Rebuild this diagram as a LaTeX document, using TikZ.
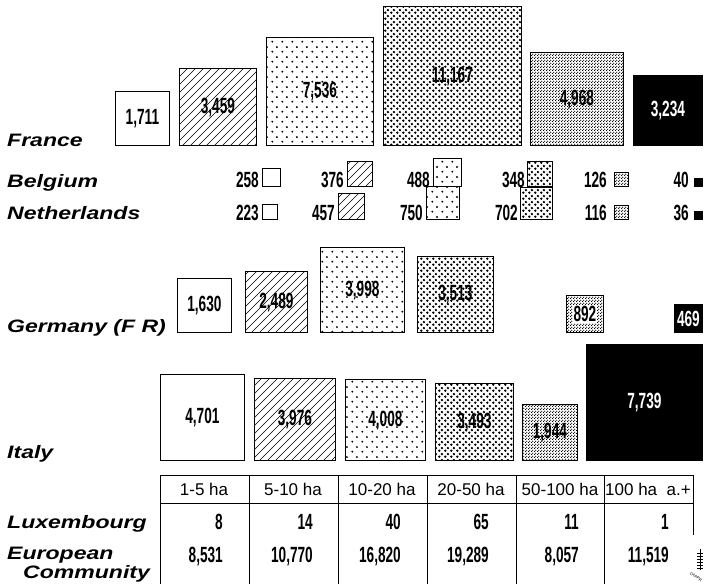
\documentclass[tikz,border=0pt]{standalone}
\usepackage{fontspec}
\setmainfont{Liberation Sans}
\newfontfamily\widefont[FakeStretch=1.28]{Liberation Sans}
\newfontfamily\narrowfont[FakeStretch=0.62]{Liberation Sans}
\usetikzlibrary{patterns}

% fill patterns, one per size class
\pgfdeclarepatternformonly{hatch}{\pgfqpoint{-1pt}{-1pt}}{\pgfqpoint{9pt}{9pt}}{\pgfqpoint{8pt}{8pt}}{%
  \pgfsetlinewidth{0.7pt}\pgfpathmoveto{\pgfqpoint{0pt}{0pt}}\pgfpathlineto{\pgfqpoint{8.1pt}{8.1pt}}\pgfusepath{stroke}}
\pgfdeclarepatternformonly{sparsedots}{\pgfqpoint{0pt}{0pt}}{\pgfqpoint{10pt}{10pt}}{\pgfqpoint{10pt}{10pt}}{%
  \pgfpathcircle{\pgfqpoint{2.5pt}{2.5pt}}{1.1pt}\pgfpathcircle{\pgfqpoint{7.5pt}{7.5pt}}{1.1pt}\pgfusepath{fill}}
\pgfdeclarepatternformonly{densedots}{\pgfqpoint{0pt}{0pt}}{\pgfqpoint{6pt}{6pt}}{\pgfqpoint{6pt}{6pt}}{%
  \pgfpathcircle{\pgfqpoint{1.5pt}{1.5pt}}{1.45pt}\pgfpathcircle{\pgfqpoint{4.5pt}{4.5pt}}{1.45pt}\pgfusepath{fill}}
\pgfdeclarepatternformonly{halftone}{\pgfqpoint{0pt}{0pt}}{\pgfqpoint{3pt}{3pt}}{\pgfqpoint{3pt}{3pt}}{%
  \pgfpathcircle{\pgfqpoint{0.75pt}{0.75pt}}{0.85pt}\pgfpathcircle{\pgfqpoint{2.25pt}{2.25pt}}{0.85pt}\pgfusepath{fill}}

\tikzstyle{farm} = [rectangle, draw=black, line width=0.8pt, inner sep=0pt, anchor=south west, font=\narrowfont\bfseries\fontsize{22}{22}\selectfont]
\tikzstyle{c1} = [farm, fill=white]
\tikzstyle{c2} = [farm, pattern=hatch]
\tikzstyle{c3} = [farm, pattern=sparsedots]
\tikzstyle{c4} = [farm, pattern=densedots]
\tikzstyle{c5} = [farm, pattern=halftone]
\tikzstyle{c6} = [farm, fill=black, text=white]
\tikzstyle{numlbl} = [inner sep=0pt, anchor=base east, font=\narrowfont\bfseries\fontsize{22}{22}\selectfont]
\tikzstyle{country} = [inner sep=0pt, anchor=base west, font=\widefont\bfseries\itshape\fontsize{18}{18}\selectfont]
\tikzstyle{head} = [inner sep=0pt, font=\fontsize{17}{17}\selectfont]

\begin{document}
\begin{tikzpicture}[x=1pt, y=-1pt]
            \useasboundingbox (0,0) rectangle (705,584);

            % France
            \node (fr) [country] at (7,146) {France};
            \node (fr1) [c1, minimum size=54pt] at (115,146) {1,711};
            \node (fr2) [c2, minimum size=77pt] at (179,146) {3,459};
            \node (fr3) [c3, minimum width=107pt, minimum height=108pt] at (266,146) {7,536};
            \node (fr4) [c4, minimum width=138pt, minimum height=139pt] at (383,146) {11,167};
            \node (fr5) [c5, minimum size=93pt] at (530,146) {4,968};
            \node (fr6) [c6, minimum width=69pt, minimum height=70pt] at (633,146) {3,234};

            % Belgium
            \node (be) [country] at (7,187) {Belgium};
            \node (be1) [c1, minimum size=18pt] at (262,187) {};
            \node (be2) [c2, minimum size=25pt] at (347,187) {};
            \node (be3) [c3, minimum size=28pt] at (433,187) {};
            \node (be4) [c4, minimum size=25pt] at (527,187) {};
            \node (be5) [c5, minimum size=14pt] at (614,187) {};
            \node (be6) [c6, minimum size=8pt] at (694,187) {};
            \node (be1n) [numlbl] at ([xshift=-3pt]be1.south west) {258};
            \node (be2n) [numlbl] at ([xshift=-3pt]be2.south west) {376};
            \node (be3n) [numlbl] at ([xshift=-3pt]be3.south west) {488};
            \node (be4n) [numlbl] at ([xshift=-2pt]be4.south west) {348};
            \node (be5n) [numlbl] at ([xshift=-7pt]be5.south west) {126};
            \node (be6n) [numlbl] at ([xshift=-5pt]be6.south west) {40};

            % Netherlands
            \node (nl) [country] at (7,219) {Netherlands};
            \node (nl1) [c1, minimum size=15pt] at (262,220) {};
            \node (nl2) [c2, minimum size=26pt] at (338,220) {};
            \node (nl3) [c3, minimum size=33pt] at (426,220) {};
            \node (nl4) [c4, minimum size=32pt] at (520,220) {};
            \node (nl5) [c5, minimum size=14pt] at (614,220) {};
            \node (nl6) [c6, minimum size=8pt] at (694,220) {};
            \node (nl1n) [numlbl] at ([xshift=-3pt]nl1.south west) {223};
            \node (nl2n) [numlbl] at ([xshift=-3pt]nl2.south west) {457};
            \node (nl3n) [numlbl] at ([xshift=-3pt]nl3.south west) {750};
            \node (nl4n) [numlbl] at ([xshift=-2pt]nl4.south west) {702};
            \node (nl5n) [numlbl] at ([xshift=-7pt]nl5.south west) {116};
            \node (nl6n) [numlbl] at ([xshift=-5pt]nl6.south west) {36};

            % Germany
            \node (de) [country] at (7,332) {Germany (F R)};
            \node (de1) [c1, minimum size=54pt] at (177,333) {1,630};
            \node (de2) [c2, minimum width=62pt, minimum height=61pt] at (245,333) {2,489};
            \node (de3) [c3, minimum width=84pt, minimum height=85pt] at (320,333) {3,998};
            \node (de4) [c4, minimum size=76pt] at (417,333) {3,513};
            \node (de5) [c5, minimum size=37pt] at (566,333) {};
            \node (de5n) [fill=white, inner sep=1pt, font=\narrowfont\bfseries\fontsize{22}{22}\selectfont] at (de5) {892};
            \node (de6) [c6, minimum size=28pt] at (674,333) {469};

            % Italy
            \node (it) [country] at (7,458) {Italy};
            \node (it1) [c1, minimum width=84pt, minimum height=86pt] at (160,461) {4,701};
            \node (it2) [c2, minimum width=81pt, minimum height=82pt] at (254,461) {3,976};
            \node (it3) [c3, minimum width=80pt, minimum height=81pt] at (345,461) {4,008};
            \node (it4) [c4, minimum width=78pt, minimum height=77pt] at (435,461) {3,493};
            \node (it5) [c5, minimum width=55pt, minimum height=56pt] at (522,461) {1,944};
            \node (it6) [c6, minimum size=116pt] at (586,461) {7,739};

            % table
            \node (lu) [country] at (7,528) {Luxembourg};
            \node (ec) [country] at (7,559) {European};
            \node (ec2) [country] at (23,578) {Community};

            \draw [line width=0.8pt] (160,475) -- (693,475);
            \draw [line width=0.8pt] (160,503) -- (693,503);
            \foreach \x in {160,249,338,427,516,604}
                \draw [line width=0.8pt] (\x,475) -- (\x,584);
            \draw [line width=0.8pt] (693,475) -- (693,535);

            \foreach \c/\r/\h/\l/\e [count=\i] in {204/223/1-5 ha/8/8{,}531, 293/313/5-10 ha/14/10{,}770, 382/401/10-20 ha/40/16{,}820, 471/489/20-50 ha/65/19{,}289, 560/579/50-100 ha/11/8{,}057, 648/669/100 ha\ \ a.+/1/11{,}519}
            {
                \node (h\i) [head] at (\c,489) {\h};
                \node (lu\i) [numlbl] at (\r,529) {\l};
                \node (ec\i) [numlbl] at (\r,562) {\e};
            }

            % printer's mark
            \foreach \k in {0,...,5}
                \draw [line width=0.6pt] (697,553+3*\k) -- (703,553+3*\k);
            \draw [line width=0.6pt] (700,549) -- (700,570);
            \node (mark) [inner sep=0pt, rotate=-35, font=\fontsize{4}{4}\selectfont] at (696,577) {CAPPR};
        \end{tikzpicture}
\end{document}
